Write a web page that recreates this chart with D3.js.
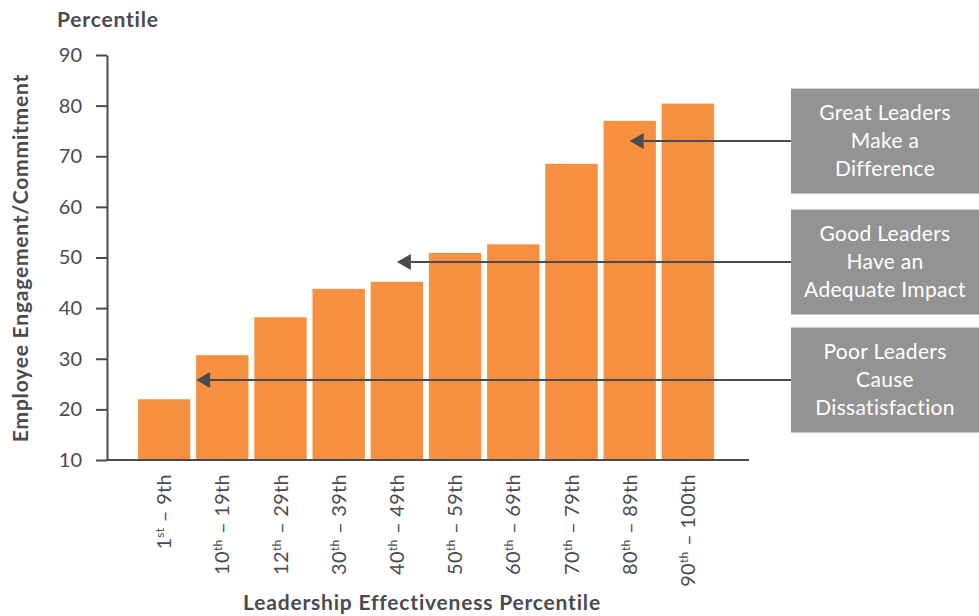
<!DOCTYPE html>
<html>
  <head>
    <meta charset="utf-8">
    <script src="https://d3js.org/d3.v7.min.js"></script>
    <title>Leadership Effectiveness</title>
    <style>
      body { margin: 0px; background: #fff; }
      .tick text { fill: #4a4a4f; font-size: 20px; font-family: Lato, sans-serif; }
      .tick line { stroke: #4a4a4f; stroke-width: 2; }
      .domain { stroke: #4a4a4f; stroke-width: 2; }
      .axis-title { fill: #4a4a4f; font-size: 21px; font-weight: bold; letter-spacing: 0.8px; font-family: Lato, sans-serif; }
      .xlabel { fill: #4a4a4f; font-size: 20px; letter-spacing: 0.3px; font-family: Lato, sans-serif; }
      .callout text { fill: #fff; font-size: 21px; letter-spacing: 0.3px; font-family: Lato, sans-serif; }
    </style>
  </head>
  <body>
    <svg width="979" height="616"></svg>
    <script>
      // bar data
      const categories = ['1-9', '10-19', '12-29', '30-39', '40-49', '50-59', '60-69', '70-79', '80-89', '90-100'];
      const values = [22, 30.7, 38.2, 43.8, 45.2, 50.9, 52.6, 68.5, 77, 80.4];

      // tick labels: start number, superscript, rest
      const labelStart = ['1', '10', '12', '30', '40', '50', '60', '70', '80', '90'];
      const labelSup = ['st', 'th', 'th', 'th', 'th', 'th', 'th', 'th', 'th', 'th'];
      const labelEnd = [' – 9th', ' – 19th', ' – 29th', ' – 39th', ' – 49th', ' – 59th', ' – 69th', ' – 79th', ' – 89th', ' – 100th'];
      const yTickValues = [10, 20, 30, 40, 50, 60, 70, 80, 90];

      // callouts
      const calloutLines = [
        ['Great Leaders', 'Make a', 'Difference'],
        ['Good Leaders', 'Have an', 'Adequate Impact'],
        ['Poor Leaders', 'Cause', 'Dissatisfaction']
      ];
      const calloutTarget = ['80-89', '40-49', '10-19'];
      const calloutAt = [0.5, 0.5, 0];
      const calloutValue = [73, 49.1, 25.8];

      const svg = d3.select('svg');
      const orange = '#f79141';
      const dark = '#4a4a4f';

      const axisX = 107;
      const xScale = d3.scaleBand()
        .domain(categories)
        .range([135, 717])
        .paddingInner(0.1)
        .paddingOuter(0.05);

      const yScale = d3.scaleLinear()
        .domain([10, 90])
        .range([460, 55]);

      // bars
      svg.append('g').selectAll('rect')
        .data(values)
        .join('rect')
          .attr('x', (d, i) => xScale(categories[i]))
          .attr('y', d => yScale(d))
          .attr('width', xScale.bandwidth())
          .attr('height', d => yScale(10) - yScale(d))
          .attr('fill', orange);

      // y axis
      const yAxis = d3.axisLeft(yScale)
        .tickValues(yTickValues)
        .tickSize(11)
        .tickSizeOuter(0)
        .tickPadding(14);
      svg.append('g')
        .attr('transform', `translate(${axisX},0)`)
        .call(yAxis);

      // x axis line
      svg.append('line')
        .attr('x1', axisX - 1)
        .attr('x2', 749)
        .attr('y1', yScale(10))
        .attr('y2', yScale(10))
        .attr('stroke', dark)
        .attr('stroke-width', 2);

      // x labels
      const xl = svg.append('g').selectAll('text')
        .data(categories)
        .join('text')
          .attr('class', 'xlabel')
          .attr('text-anchor', 'end')
          .attr('dy', '0.35em')
          .attr('transform', d => `translate(${xScale(d) + xScale.bandwidth() / 2},474) rotate(-90)`);
      xl.append('tspan').text((d, i) => labelStart[i]);
      xl.append('tspan')
        .attr('font-size', '12px')
        .attr('baseline-shift', '7px')
        .text((d, i) => labelSup[i]);
      xl.append('tspan').text((d, i) => labelEnd[i]);

      // titles
      svg.append('text')
        .attr('class', 'axis-title')
        .attr('x', 57)
        .attr('y', 27)
        .text('Percentile');

      svg.append('text')
        .attr('class', 'axis-title')
        .attr('text-anchor', 'middle')
        .attr('transform', 'translate(28,258) rotate(-90)')
        .text('Employee Engagement/Commitment');

      svg.append('text')
        .attr('class', 'axis-title')
        .attr('text-anchor', 'middle')
        .attr('x', 422)
        .attr('y', 610)
        .text('Leadership Effectiveness Percentile');

      // arrows and callout boxes
      const boxX = 791, boxW = 188, boxH = 105;
      calloutLines.forEach((lines, i) => {
        const ay = yScale(calloutValue[i]);
        const tipX = xScale(calloutTarget[i]) + xScale.bandwidth() * calloutAt[i];
        svg.append('line')
          .attr('x1', boxX)
          .attr('x2', tipX + 14)
          .attr('y1', ay)
          .attr('y2', ay)
          .attr('stroke', dark)
          .attr('stroke-width', 2);
        svg.append('path')
          .attr('d', `M${tipX},${ay} L${tipX + 14},${ay - 8} L${tipX + 14},${ay + 8} Z`)
          .attr('fill', dark);

        const g = svg.append('g').attr('class', 'callout');
        g.append('rect')
          .attr('x', boxX)
          .attr('y', ay - boxH / 2)
          .attr('width', boxW)
          .attr('height', boxH)
          .attr('fill', '#939393');
        g.selectAll('text')
          .data(lines)
          .join('text')
            .attr('x', boxX + boxW / 2)
            .attr('y', (d, j) => ay + (j - 1) * 28)
            .attr('dy', '0.35em')
            .attr('text-anchor', 'middle')
            .text(d => d);
      });
    </script>
  </body>
</html>
